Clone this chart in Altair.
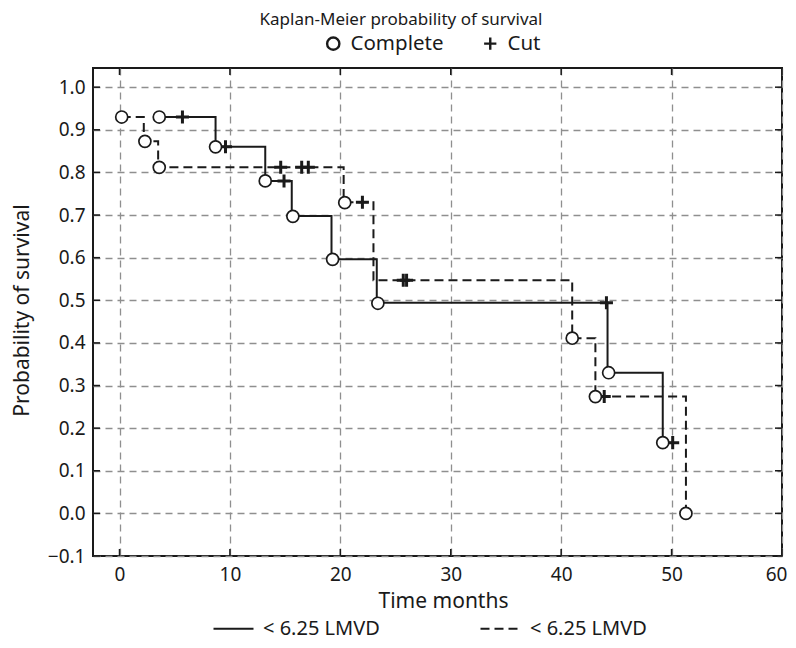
import altair as alt
import pandas as pd

# ---- data ----
# step curves: time (months), survival probability
solid_t = [3.6, 8.7, 13.2, 15.6, 19.2, 23.3, 44.2, 49.2, 50.1]
solid_s = [0.930, 0.860, 0.780, 0.698, 0.596, 0.494, 0.330, 0.166, 0.166]
dashed_t = [0.2, 2.2, 3.5, 20.3, 23.0, 41.0, 43.1, 51.3]
dashed_s = [0.930, 0.873, 0.812, 0.730, 0.547, 0.411, 0.274, 0.0]

# complete (event) markers
complete_t = [3.6, 8.7, 13.2, 15.7, 19.3, 23.4, 44.3, 49.2,
              0.2, 2.3, 3.6, 20.4, 41.0, 43.1, 51.3]
complete_s = [0.930, 0.860, 0.780, 0.697, 0.596, 0.493, 0.330, 0.166,
              0.930, 0.873, 0.812, 0.729, 0.411, 0.274, 0.0]
# cut (censored) markers
cut_t = [5.7, 9.6, 14.9, 44.1, 50.1,
         14.6, 16.5, 17.1, 22.0, 25.7, 26.0, 43.9]
cut_s = [0.930, 0.860, 0.780, 0.494, 0.166,
         0.812, 0.812, 0.812, 0.730, 0.547, 0.547, 0.274]

x_ticks = [0, 10, 20, 30, 40, 50, 60]
y_ticks = [-0.1, 0.0, 0.1, 0.2, 0.3, 0.4, 0.5, 0.6, 0.7, 0.8, 0.9, 1.0]
group_names = ["g1", "g2"]
group_label = "< 6.25 LMVD"
kind_names = ["Complete", "Cut"]
title_text = ["Kaplan-Meier probability of survival"]

# ---- tables ----
lines_df = pd.DataFrame({
    "t": solid_t + dashed_t,
    "s": solid_s + dashed_s,
    "grp": [group_names[0]] * len(solid_t) + [group_names[1]] * len(dashed_t),
})
comp_df = pd.DataFrame({"t": complete_t, "s": complete_s, "kind": kind_names[0]})
cut_df = pd.DataFrame({"t": cut_t, "s": cut_s, "kind": kind_names[1]})
xt_df = pd.DataFrame({"t": x_ticks})
yt_df = pd.DataFrame({"s": y_ticks})
title_df = pd.DataFrame({"label": title_text})

FONT = "Noto Sans"
W, H = 689, 488
INK = "#1a1a1a"
PLUS = "M-1,0H1M0,-1V1"

xscale = alt.Scale(domain=[-2.4, 60], nice=False, zero=False)
yscale = alt.Scale(domain=[-0.1, 1.045], nice=False, zero=False)

X = alt.X("t:Q", scale=xscale,
          axis=alt.Axis(values=x_ticks, format="d", title="Time months",
                        labelFlush=True, labelFlushOffset=5,
                        titleX=350, titleY=45, titleBaseline="middle",
                        titleAlign="center"))
Y = alt.Y("s:Q", scale=yscale,
          axis=alt.Axis(values=y_ticks, format=".1f", title="Probability of survival",
                        labelFlush=False,
                        titleX=-71, titleY=H / 2 - 2, titleAngle=270,
                        titleBaseline="middle", titleAlign="center"))

shape_scale = alt.Scale(domain=kind_names, range=["circle", PLUS])
shape_legend = alt.Legend(
    orient="none", legendX=230, legendY=-35, direction="horizontal", title=None,
    labelFontSize=20.5, labelFont=FONT, labelColor=INK, symbolSize=150,
    symbolStrokeWidth=2.4, columnPadding=35, labelOffset=7,
)

lines = alt.Chart(lines_df).mark_line(
    interpolate="step-after", color=INK, strokeWidth=2
).encode(
    x=X, y=Y,
    strokeDash=alt.StrokeDash(
        "grp:N",
        scale=alt.Scale(domain=group_names, range=[[1, 0], [9, 5]]),
        legend=alt.Legend(
            orient="none", legendX=119, legendY=H + 51, direction="horizontal",
            title=None, labelExpr="'" + group_label + "'", symbolType="stroke",
            symbolSize=1600, symbolStrokeWidth=2.2, symbolStrokeColor=INK,
            labelFontSize=20, labelFont=FONT, labelColor=INK,
            columnPadding=96, labelOffset=8,
        ),
    ),
)

# circles: white filled with dark outline (legend comes from the plus layer)
circles = alt.Chart(comp_df).mark_point(
    filled=False, color=INK, fill="white", fillOpacity=1,
    strokeWidth=1.7, size=145, opacity=1
).encode(x=X, y=Y, shape=alt.Shape("kind:N", scale=shape_scale, legend=None))

pluses = alt.Chart(cut_df).mark_point(
    filled=False, color=INK, strokeWidth=3, size=170, opacity=1
).encode(x=X, y=Y, shape=alt.Shape("kind:N", scale=shape_scale, legend=shape_legend))

tick_x_bottom = alt.Chart(xt_df).mark_rule(color=INK, strokeWidth=1.5).encode(
    x=X, y=alt.value(H), y2=alt.value(H - 7))
tick_x_top = alt.Chart(xt_df).mark_rule(color=INK, strokeWidth=1.5).encode(
    x=X, y=alt.value(0), y2=alt.value(7))
tick_y_left = alt.Chart(yt_df).mark_rule(color=INK, strokeWidth=1.5).encode(
    y=Y, x=alt.value(0), x2=alt.value(7))
tick_y_right = alt.Chart(yt_df).mark_rule(color=INK, strokeWidth=1.5).encode(
    y=Y, x=alt.value(W - 7), x2=alt.value(W))

title = alt.Chart(title_df).mark_text(
    font=FONT, fontSize=17, color=INK, align="center", baseline="alphabetic"
).encode(text="label:N", x=alt.value(308), y=alt.value(-43))

chart = alt.layer(
    tick_x_bottom, tick_x_top, tick_y_left, tick_y_right, lines, pluses, circles, title
).properties(
    width=W, height=H,
    autosize=alt.AutoSizeParams(type="none"),
    padding={"left": 85, "top": 60, "right": 6, "bottom": 84},
).configure_view(
    stroke=INK, strokeWidth=2
).configure_axis(
    domain=False, ticks=False, grid=True, gridColor="#8f8f8f", gridDash=[7, 5],
    gridWidth=1.3, labelFont=FONT, labelFontSize=19, labelColor=INK,
    labelPadding=8, titleFont=FONT, titleFontSize=21, titleFontWeight="normal",
    titleColor=INK,
).configure_axisX(labelPadding=9)

chart.save("out.html", embed_options={"renderer": "svg", "actions": False})
